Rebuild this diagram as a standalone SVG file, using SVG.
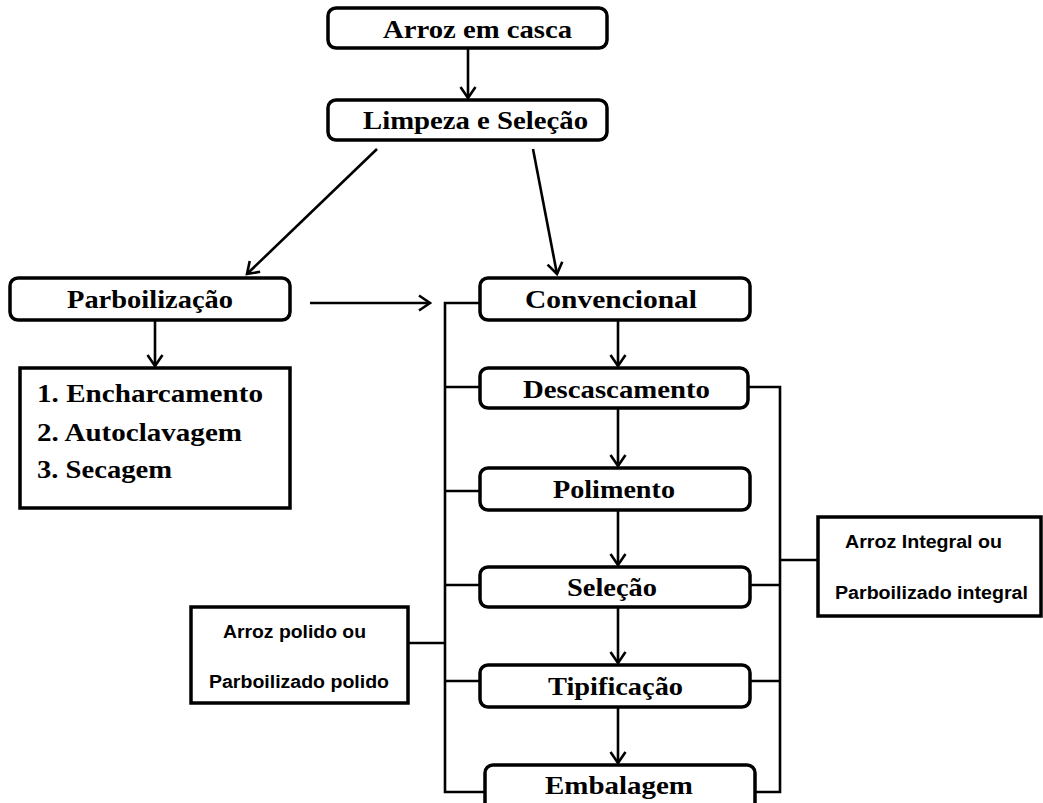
<svg xmlns="http://www.w3.org/2000/svg" width="1043" height="803" viewBox="0 0 1043 803">
<style>
.box{fill:#fff;stroke:#000;stroke-width:3.5}
.t{font-family:"Liberation Serif","Times New Roman",serif;font-weight:bold;font-size:26px;fill:#000}
.s{font-family:"Liberation Sans",Arial,sans-serif;font-weight:bold;font-size:17.5px;fill:#000}
.c{fill:none;stroke:#000;stroke-width:2.6}
</style>
<defs>
<marker id="ah" markerUnits="userSpaceOnUse" markerWidth="18" markerHeight="20" refX="12" refY="9" orient="auto" viewBox="0 0 18 18">
<path d="M1,1.5 L12,9 L1,16.5" fill="none" stroke="#000" stroke-width="2.6"/>
</marker>
</defs>
<g id="connectors">
<line class="c" x1="468" y1="48" x2="468" y2="98" marker-end="url(#ah)"/>
<line class="c" x1="377" y1="149" x2="247" y2="274" marker-end="url(#ah)"/>
<line class="c" x1="533" y1="149" x2="557" y2="274" marker-end="url(#ah)"/>
<line class="c" x1="310" y1="303" x2="430" y2="303" marker-end="url(#ah)"/>
<line class="c" x1="155" y1="320" x2="155" y2="366" marker-end="url(#ah)"/>
<line class="c" x1="618" y1="320" x2="618" y2="366" marker-end="url(#ah)"/>
<line class="c" x1="618" y1="408" x2="618" y2="466" marker-end="url(#ah)"/>
<line class="c" x1="618" y1="510" x2="618" y2="565" marker-end="url(#ah)"/>
<line class="c" x1="618" y1="607" x2="618" y2="663" marker-end="url(#ah)"/>
<line class="c" x1="618" y1="707" x2="618" y2="763" marker-end="url(#ah)"/>
<path class="c" d="M480,303 H445 V792 H485"/>
<path class="c" d="M445,387 H480 M445,491 H480 M445,585 H480 M445,681 H480 M408,643 H445"/>
<path class="c" d="M748,387 H780 V792 H755"/>
<path class="c" d="M750,585 H780 M750,681 H780 M780,560 H818"/>
</g>
<g id="n-arroz-casca">
<rect class="box" x="328" y="8" width="279" height="40" rx="8"/>
<text class="t" x="383" y="38" textLength="189" lengthAdjust="spacingAndGlyphs">Arroz em casca</text>
</g>
<g id="n-limpeza">
<rect class="box" x="328" y="100" width="279" height="40" rx="8"/>
<text class="t" x="363" y="129" textLength="225" lengthAdjust="spacingAndGlyphs">Limpeza e Seleção</text>
</g>
<g id="n-parboilizacao">
<rect class="box" x="10" y="278" width="280" height="42" rx="8"/>
<text class="t" x="67" y="308" textLength="166" lengthAdjust="spacingAndGlyphs">Parboilização</text>
</g>
<g id="n-etapas">
<rect class="box" x="20" y="368" width="270" height="140"/>
<text class="t" x="37" y="402" textLength="226" lengthAdjust="spacingAndGlyphs">1. Encharcamento</text>
<text class="t" x="37" y="441" textLength="205" lengthAdjust="spacingAndGlyphs">2. Autoclavagem</text>
<text class="t" x="37" y="478" textLength="135" lengthAdjust="spacingAndGlyphs">3. Secagem</text>
</g>
<g id="n-convencional">
<rect class="box" x="480" y="278" width="270" height="42" rx="8"/>
<text class="t" x="525" y="308" textLength="172" lengthAdjust="spacingAndGlyphs">Convencional</text>
</g>
<g id="n-descascamento">
<rect class="box" x="480" y="368" width="268" height="40" rx="8"/>
<text class="t" x="523" y="398" textLength="187" lengthAdjust="spacingAndGlyphs">Descascamento</text>
</g>
<g id="n-polimento">
<rect class="box" x="480" y="468" width="270" height="42" rx="8"/>
<text class="t" x="553" y="498" textLength="122" lengthAdjust="spacingAndGlyphs">Polimento</text>
</g>
<g id="n-selecao">
<rect class="box" x="480" y="567" width="270" height="40" rx="8"/>
<text class="t" x="567" y="596" textLength="90" lengthAdjust="spacingAndGlyphs">Seleção</text>
</g>
<g id="n-tipificacao">
<rect class="box" x="480" y="665" width="270" height="42" rx="8"/>
<text class="t" x="548" y="695" textLength="135" lengthAdjust="spacingAndGlyphs">Tipificação</text>
</g>
<g id="n-embalagem">
<rect class="box" x="485" y="765" width="270" height="50" rx="8"/>
<text class="t" x="545" y="794" textLength="148" lengthAdjust="spacingAndGlyphs">Embalagem</text>
</g>
<g id="n-polido">
<rect class="box" x="191" y="607" width="217" height="96"/>
<text class="s" x="223" y="638" textLength="143" lengthAdjust="spacingAndGlyphs">Arroz polido ou</text>
<text class="s" x="209" y="688" textLength="180" lengthAdjust="spacingAndGlyphs">Parboilizado polido</text>
</g>
<g id="n-integral">
<rect class="box" x="818" y="517" width="223" height="99"/>
<text class="s" x="845" y="548" textLength="157" lengthAdjust="spacingAndGlyphs">Arroz Integral ou</text>
<text class="s" x="835" y="599" textLength="193" lengthAdjust="spacingAndGlyphs">Parboilizado integral</text>
</g>
</svg>
